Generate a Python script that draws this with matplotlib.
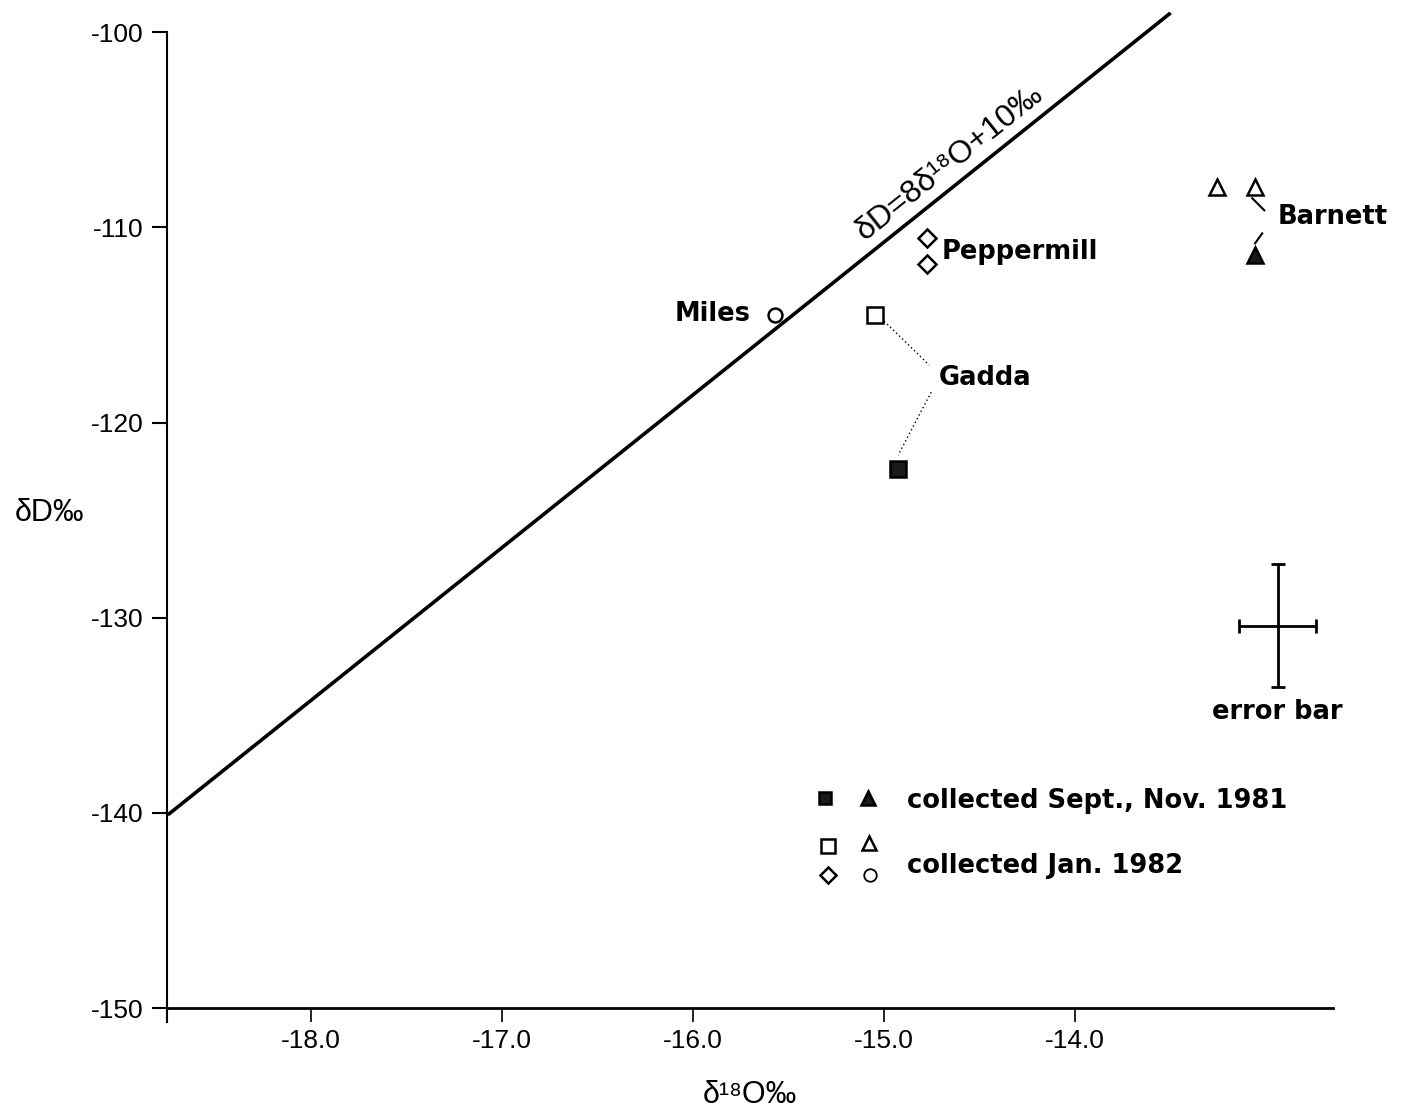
import numpy as np
import matplotlib
matplotlib.use('Agg')
import matplotlib.pyplot as plt

plt.rcParams['axes.unicode_minus'] = False

# 数据
gadda_x = [-15.05, -14.93]
gadda_y = [-114.5, -122.4]
gadda_filled = [False, True]
pepper_x = [-14.775, -14.775]
pepper_y = [-110.55, -111.85]
miles_x = [-15.57]
miles_y = [-114.5]
barnett_x = [-13.26, -13.06, -13.06]
barnett_y = [-107.95, -107.95, -111.42]
barnett_filled = [False, False, True]

# 大气降水线 δD = 8δ18O + 10（按原图画出的位置）
wml_x = [-18.75, -13.5]
wml_y = [-140.1, -99.0]
wml_label = 'δD=8δ¹⁸O+10‰'

# 误差棒示例
err_x, err_y = -12.94, -130.4
err_dx, err_dy = 0.2, 3.15

xticks = [-18.0, -17.0, -16.0, -15.0, -14.0]
xtick_labels = ['-18.0', '-17.0', '-16.0', '-15.0', '-14.0']
yticks = [-100, -110, -120, -130, -140, -150]
ytick_labels = ['-100', '-110', '-120', '-130', '-140', '-150']

tick_font = ['Liberation Sans', 'DejaVu Sans']
lab_font = 'DejaVu Sans'
dark = '#1a1a1a'

fig = plt.figure(figsize=(14.05, 11.12), dpi=100)
ax = fig.add_axes([0.1189, 0.0812, 0.8299, 0.9076])
ax.set_xlim(-18.754, -12.65)
ax.set_ylim(-150.7, -98.98)

# 坐标轴
for s in ['top', 'right']:
    ax.spines[s].set_visible(False)
ax.spines['bottom'].set_position(('data', -150))
ax.spines['bottom'].set_linewidth(2.0)
ax.spines['left'].set_linewidth(1.5)
ax.spines['left'].set_bounds(-150.7, -100)
ax.set_xticks(xticks)
ax.set_xticklabels(xtick_labels, family=tick_font, fontsize=19)
ax.set_yticks(yticks)
ax.set_yticklabels(ytick_labels, family=tick_font, fontsize=19)
ax.tick_params(axis='y', direction='out', length=11, width=1.5, pad=6)
ax.tick_params(axis='x', direction='out', length=10, width=1.2, pad=5)

fig.text(15 / 1405, 1 - 513 / 1112, 'δD‰', family=tick_font, fontsize=22,
         ha='left', va='center')
fig.text(750 / 1405, 1 - 1095 / 1112, 'δ¹⁸O‰', family=tick_font, fontsize=22,
         ha='center', va='center')

# 线
ax.plot(wml_x, wml_y, color='black', lw=2.6, solid_capstyle='butt')
p = ax.transData.transform([[wml_x[0], wml_y[0]], [wml_x[1], wml_y[1]]])
ang = np.degrees(np.arctan2(p[1, 1] - p[0, 1], p[1, 0] - p[0, 0]))
ax.annotate(wml_label, xy=(-15.06, -111.2), xytext=(-5.9, 7.3),
            textcoords='offset points', rotation=ang, rotation_mode='anchor',
            ha='left', va='baseline', family=tick_font, fontsize=23)

# 数据点
mkw = dict(markeredgecolor='black', markeredgewidth=1.8, linestyle='none')
for x, y, f in zip(gadda_x, gadda_y, gadda_filled):
    ax.plot(x, y, 's', markersize=11, markerfacecolor=dark if f else 'white', **mkw)
ax.plot(pepper_x, pepper_y, 'D', markersize=9.5, markerfacecolor='white', **mkw)
ax.plot(miles_x, miles_y, 'o', markersize=10, markerfacecolor='white', **mkw, zorder=3)
for x, y, f in zip(barnett_x, barnett_y, barnett_filled):
    ax.plot(x, y, '^', markersize=11, markerfacecolor=dark if f else 'white', **mkw)

# 引线
ax.plot([-15.0, -14.764], [-114.8, -117.05], color='black', lw=1, ls=(0, (1, 2)))
ax.plot([-14.754, -14.927], [-118.44, -121.67], color='black', lw=1, ls=(0, (1, 2)))
ax.plot([-13.073, -13.01], [-108.5, -109.12], color='black', lw=1.5)
ax.plot([-13.021, -13.058], [-110.3, -110.81], color='black', lw=1.5)

# 标注
tkw = dict(family=lab_font, fontweight='bold', fontsize=18.5, va='center')
ax.text(-15.70, -114.45, 'Miles', ha='right', **tkw)
ax.text(-14.70, -111.27, 'Peppermill', ha='left', **tkw)
ax.text(-14.712, -117.73, 'Gadda', ha='left', **tkw)
ax.text(-12.942, -109.48, 'Barnett', ha='left', **tkw)

# 误差棒
ax.errorbar(err_x, err_y, xerr=err_dx, yerr=err_dy, fmt='none', ecolor='black',
            elinewidth=2, capsize=5, capthick=2)
ax.text(err_x, -134.84, 'error bar', ha='center', **tkw)

# 图例（手绘式）
ax.plot(-15.309, -139.24, 's', markersize=9, markerfacecolor=dark, **mkw)
ax.plot(-15.084, -139.24, '^', markersize=9.5, markerfacecolor=dark, **mkw)
ax.plot(-15.293, -141.70, 's', markersize=9.5, markerfacecolor='white', **mkw)
ax.plot(-15.079, -141.55, '^', markersize=9.5, markerfacecolor='white', **mkw)
ax.plot(-15.293, -143.19, 'D', markersize=8.5, markerfacecolor='white', **mkw)
ax.plot(-15.073, -143.19, 'o', markersize=9, markerfacecolor='white',
        markeredgecolor='black', markeredgewidth=1.3, linestyle='none')
ax.text(-14.88, -139.40, 'collected Sept., Nov. 1981', ha='left', **tkw)
ax.text(-14.88, -142.73, 'collected Jan. 1982', ha='left', **tkw)

fig.savefig('out.png', dpi=100)
